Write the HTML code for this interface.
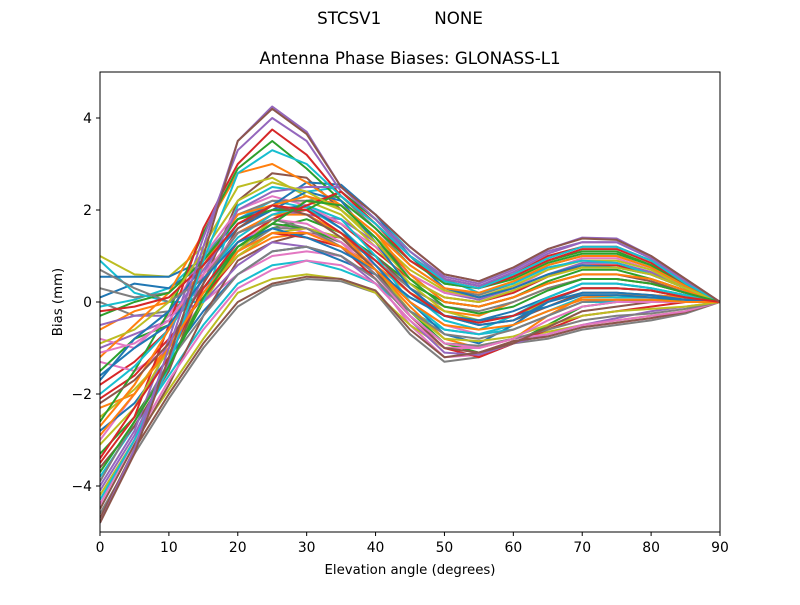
<!DOCTYPE html>
<html><head><meta charset="utf-8"><style>
body{margin:0;background:#fff;}
svg text{font-family:"DejaVu Sans","Liberation Sans",sans-serif;fill:#000;}
</style></head><body>
<svg id="chart" width="800" height="600" xmlns="http://www.w3.org/2000/svg">
<rect width="800" height="600" fill="#fff"/>
<text x="400" y="24" font-size="16.7" text-anchor="middle" xml:space="preserve">STCSV1          NONE</text>
<text x="410" y="64" font-size="16.7" text-anchor="middle">Antenna Phase Biases: GLONASS-L1</text>
<defs><clipPath id="clip"><rect x="100" y="72" width="620" height="460"/></clipPath></defs>
<g id="series" clip-path="url(#clip)"></g>
<rect x="100" y="72" width="620" height="460" fill="none" stroke="#000" stroke-width="1"/>
<g id="axes"></g>
<text x="410" y="574" font-size="13.3" text-anchor="middle">Elevation angle (degrees)</text>
<text x="0" y="0" font-size="13.3" text-anchor="middle" transform="translate(62,302) rotate(-90)">Bias (mm)</text>
</svg>
<script>
const elevations=[0,5,10,15,20,25,30,35,40,45,50,55,60,65,70,75,80,85,90];
const xTicks=[0,10,20,30,40,50,60,70,80,90];
const yTicks=[-4,-2,0,2,4];
const s01=[-3.0,-2.0,-1.0,0.0,0.6,1.0,1.1,1.0,0.5,-0.5,-1.2,-1.15,-0.85,-0.75,-0.55,-0.45,-0.35,-0.2,0];
const s02=[-4.6,-3.3,-2.1,-1.0,-0.1,0.35,0.5,0.45,0.2,-0.7,-1.3,-1.2,-0.9,-0.8,-0.6,-0.5,-0.4,-0.25,0];
const s03=[-4.2,-3.0,-1.9,-0.8,0.2,0.5,0.6,0.5,0.2,-0.5,-1.0,-0.95,-0.8,-0.65,-0.5,-0.4,-0.3,-0.2,0];
const s04=[-3.8,-2.7,-1.6,-0.5,0.4,0.8,0.9,0.7,0.4,-0.2,-0.6,-0.7,-0.5,-0.2,0.1,0.1,0.1,0.05,0];
const s05=[-2.8,-2.2,-1.2,-0.2,0.6,1.1,1.2,0.9,0.6,0.1,-0.3,-0.4,-0.2,0.1,0.4,0.4,0.3,0.15,0];
const s06=[-2.3,-2.0,-0.9,0.2,1.0,1.4,1.5,1.2,0.8,0.2,-0.2,-0.3,0.0,0.3,0.5,0.5,0.4,0.2,0];
const s07=[-3.3,-2.5,-1.4,0.0,1.2,1.6,1.8,1.5,1.0,0.4,0.0,-0.1,0.1,0.45,0.7,0.7,0.5,0.25,0];
const s08=[-1.8,-1.3,-0.6,0.5,1.5,1.9,2.0,1.7,1.1,0.5,0.1,0.0,0.2,0.55,0.8,0.8,0.6,0.3,0];
const s09=[-1.0,-0.7,-0.4,0.7,1.7,2.0,1.9,1.8,1.3,0.6,0.2,0.05,0.3,0.6,0.85,0.85,0.65,0.3,0];
const s10=[-4.5,-3.1,-1.8,-0.3,0.9,1.3,1.5,1.4,1.0,0.3,-0.3,-0.5,-0.4,-0.1,0.2,0.2,0.15,0.1,0];
const s11=[-1.3,-1.5,-1.0,0.2,1.3,1.7,1.5,1.3,0.8,0.0,-0.5,-0.7,-0.6,-0.3,0.0,0.05,0.05,0.0,0];
const s12=[0.0,-0.3,-0.2,0.3,1.1,1.6,1.6,1.4,0.9,0.3,-0.1,-0.2,0.0,0.3,0.5,0.5,0.4,0.2,0];
const s13=[-2.5,-1.9,-1.1,0.0,1.1,1.8,2.2,1.9,1.2,0.4,-0.2,-0.4,-0.3,0.0,0.3,0.3,0.25,0.1,0];
const s14=[-0.1,0.05,0.3,1.0,1.8,2.2,2.05,1.6,0.9,0.2,-0.4,-0.6,-0.3,0.1,0.4,0.4,0.3,0.15,0];
const s15=[0.1,0.4,0.3,0.8,1.6,2.0,2.1,1.6,0.8,0.0,-0.7,-0.9,-0.5,0.0,0.3,0.3,0.25,0.1,0];
const s16=[-0.6,-0.2,0.0,0.6,1.5,1.9,1.9,1.5,0.7,-0.1,-0.8,-1.0,-0.8,-0.3,0.1,0.15,0.15,0.1,0];
const s17=[-1.5,-0.8,-0.5,0.3,1.2,1.7,1.6,1.3,0.6,-0.2,-0.9,-1.1,-0.9,-0.5,-0.1,0.0,0.05,0.05,0];
const s18=[-2.1,-1.6,-0.8,0.1,1.0,1.5,1.4,1.2,0.5,-0.3,-1.0,-1.2,-0.9,-0.6,-0.3,-0.2,-0.1,0.0,0];
const s19=[-0.5,-0.3,-0.3,0.0,0.8,1.3,1.2,1.0,0.4,-0.4,-1.1,-1.15,-0.9,-0.7,-0.5,-0.35,-0.2,-0.1,0];
const s20=[-3.6,-2.7,-1.5,0.4,2.2,2.8,2.7,2.0,1.4,0.6,0.0,-0.1,0.1,0.4,0.6,0.6,0.45,0.2,0];
const s21=[-0.8,-1.0,-0.3,1.0,2.0,2.3,2.1,1.7,1.2,0.6,0.2,0.1,0.3,0.7,0.95,0.95,0.7,0.35,0];
const s22=[0.3,0.1,0.2,0.9,1.9,2.2,2.2,2.3,1.6,0.8,0.3,0.15,0.4,0.8,1.0,1.0,0.75,0.35,0];
const s23=[1.0,0.6,0.55,1.2,2.5,2.7,2.3,2.0,1.4,0.7,0.25,0.1,0.35,0.7,0.9,0.9,0.7,0.3,0];
const s24=[0.9,0.2,0.0,0.0,2.1,2.5,2.4,2.5,1.9,1.1,0.5,0.2,0.4,0.75,0.9,0.85,0.6,0.3,0];
const s25=[0.55,0.55,0.55,0.9,1.8,2.1,2.6,2.55,1.9,1.0,0.3,0.1,0.3,0.6,0.8,0.75,0.6,0.3,0];
const s26=[-1.2,-0.5,0.2,1.5,2.8,3.0,2.6,2.1,1.5,0.8,0.3,0.2,0.45,0.8,1.0,1.0,0.75,0.35,0];
const s27=[-2.6,-1.5,-0.2,1.5,2.9,3.5,2.9,2.2,1.6,0.9,0.4,0.3,0.55,0.9,1.1,1.1,0.8,0.4,0];
const s28=[-3.5,-2.5,-0.5,1.6,3.0,3.75,3.2,2.3,1.7,1.0,0.5,0.35,0.6,1.0,1.2,1.2,0.9,0.4,0];
const s29=[-4.0,-2.8,-0.8,1.4,3.3,4.0,3.5,2.4,1.8,1.1,0.55,0.4,0.7,1.1,1.3,1.3,0.95,0.45,0];
const s30=[-4.8,-3.2,-1.0,1.2,3.5,4.25,3.7,2.5,1.9,1.2,0.6,0.45,0.75,1.15,1.4,1.38,1.0,0.5,0];
const s31=[-4.7,-3.2,-2.0,-0.9,0.0,0.4,0.55,0.5,0.25,-0.6,-1.2,-1.1,-0.85,-0.75,-0.55,-0.45,-0.35,-0.22,0];
const s32=[-4.4,-3.0,-1.7,-0.6,0.3,0.7,0.9,0.8,0.4,-0.4,-1.0,-1.0,-0.8,-0.7,-0.5,-0.4,-0.3,-0.2,0];
const s33=[-3.9,-2.6,-1.3,-0.3,0.6,1.1,1.2,1.0,0.5,-0.3,-0.9,-0.95,-0.8,-0.6,-0.4,-0.3,-0.25,-0.15,0];
const s34=[-3.1,-2.3,-1.0,0.2,1.0,1.5,1.6,1.4,0.7,-0.2,-0.8,-0.85,-0.75,-0.5,-0.3,-0.2,-0.15,-0.1,0];
const s35=[-2.0,-1.4,-0.6,0.5,1.4,1.9,2.1,1.8,1.0,0.0,-0.6,-0.7,-0.6,-0.3,0.0,0.0,0.0,0.0,0];
const s36=[-1.7,-0.8,-0.2,0.8,1.7,2.0,2.4,2.2,1.3,0.3,-0.3,-0.5,-0.4,0.0,0.2,0.2,0.15,0.05,0];
const s37=[-2.7,-1.8,-0.6,0.8,1.9,2.1,2.3,2.1,1.5,0.6,0.0,-0.1,0.1,0.4,0.6,0.6,0.5,0.25,0];
const s38=[-0.3,0.0,0.2,0.9,1.8,2.0,2.0,2.4,1.8,1.0,0.4,0.3,0.5,0.85,1.05,1.05,0.8,0.4,0];
const s39=[-3.4,-2.3,-1.2,0.3,1.3,1.8,2.1,2.4,1.7,0.9,0.45,0.3,0.55,0.9,1.15,1.15,0.85,0.4,0];
const s40=[-4.1,-2.9,-1.3,0.6,2.0,2.4,2.5,2.5,1.8,1.0,0.5,0.35,0.65,1.05,1.3,1.3,0.95,0.45,0];
const s41=[-2.2,-1.7,-0.9,0.4,1.6,2.1,1.9,1.4,0.7,-0.3,-1.0,-1.1,-0.9,-0.55,-0.2,-0.1,0.0,0.0,0];
const s42=[-1.1,-0.9,-0.4,0.6,1.5,1.8,1.7,1.3,0.6,-0.3,-0.9,-1.0,-0.8,-0.4,-0.1,0.0,0.0,0.0,0];
const s43=[0.7,0.3,0.0,0.5,1.5,1.8,1.6,1.2,0.6,-0.2,-0.7,-0.8,-0.6,-0.3,0.0,0.05,0.05,0.0,0];
const s44=[-0.9,-0.6,0.0,1.1,2.2,2.6,2.4,2.0,1.3,0.5,0.1,0.0,0.25,0.55,0.75,0.75,0.6,0.3,0];
const s45=[-4.3,-3.0,-1.4,0.9,2.8,3.3,3.0,2.3,1.7,1.0,0.45,0.3,0.6,0.95,1.2,1.2,0.9,0.4,0];
const s46=[-1.6,-1.0,-0.5,0.5,1.3,1.6,1.4,1.1,0.7,0.1,-0.3,-0.4,-0.3,-0.1,0.15,0.15,0.1,0.05,0];
const s47=[-2.9,-2.0,-1.0,0.2,1.1,1.5,1.5,1.2,0.7,0.0,-0.5,-0.6,-0.5,-0.2,0.05,0.05,0.05,0.0,0];
const s48=[-3.7,-2.6,-1.4,0.1,1.2,1.7,2.2,2.1,1.4,0.5,-0.1,-0.25,-0.1,0.25,0.5,0.5,0.4,0.2,0];
const s49=[-4.8,-3.3,-1.2,1.0,3.5,4.2,3.65,2.5,1.9,1.2,0.6,0.45,0.75,1.15,1.38,1.35,1.0,0.5,0];
const s50=[-0.2,-0.1,0.1,0.8,1.7,2.1,2.0,1.5,0.9,0.2,-0.3,-0.45,-0.3,0.05,0.3,0.3,0.25,0.1,0];
const allSeries=[s01,s02,s03,s04,s05,s06,s07,s08,s09,s10,s11,s12,s13,s14,s15,s16,s17,s18,s19,s20,s21,s22,s23,s24,s25,s26,s27,s28,s29,s31,s32,s33,s34,s35,s36,s37,s38,s39,s40,s41,s42,s43,s44,s45,s46,s47,s48,s50,s30,s49];
const colors=["#1f77b4","#ff7f0e","#2ca02c","#d62728","#9467bd","#8c564b","#e377c2","#7f7f7f","#bcbd22","#17becf"];
const NS="http://www.w3.org/2000/svg";
function xScale(v){return 100+(v-0)/90*620;}
function yScale(v){return 302-v*46;}
const g=document.getElementById('series');
allSeries.forEach((s,i)=>{
  const p=document.createElementNS(NS,'polyline');
  p.setAttribute('points',s.map((v,j)=>xScale(elevations[j])+','+yScale(v)).join(' '));
  p.setAttribute('fill','none');
  p.setAttribute('stroke',colors[(i+6)%10]);
  p.setAttribute('stroke-width','2');
  p.setAttribute('stroke-linejoin','round');
  
  
  g.appendChild(p);
});
const ax=document.getElementById('axes');
xTicks.forEach(t=>{
  const x=xScale(t);
  const l=document.createElementNS(NS,'line');
  l.setAttribute('x1',x);l.setAttribute('x2',x);l.setAttribute('y1',532);l.setAttribute('y2',536);
  l.setAttribute('stroke','#000');
  
  
  ax.appendChild(l);
  const tx=document.createElementNS(NS,'text');
  tx.setAttribute('x',x);tx.setAttribute('y',552);tx.setAttribute('font-size','13.9');tx.setAttribute('text-anchor','middle');
  tx.textContent=t;
  
  
  ax.appendChild(tx);
});
yTicks.forEach(t=>{
  const y=yScale(t);
  const l=document.createElementNS(NS,'line');
  l.setAttribute('x1',96);l.setAttribute('x2',100);l.setAttribute('y1',y);l.setAttribute('y2',y);
  l.setAttribute('stroke','#000');
  
  
  ax.appendChild(l);
  const tx=document.createElementNS(NS,'text');
  tx.setAttribute('x',92);tx.setAttribute('y',y+5);tx.setAttribute('font-size','13.9');tx.setAttribute('text-anchor','end');
  tx.textContent=t<0?'\u2212'+Math.abs(t):t;
  
  
  ax.appendChild(tx);
});
</script>
</body></html>
